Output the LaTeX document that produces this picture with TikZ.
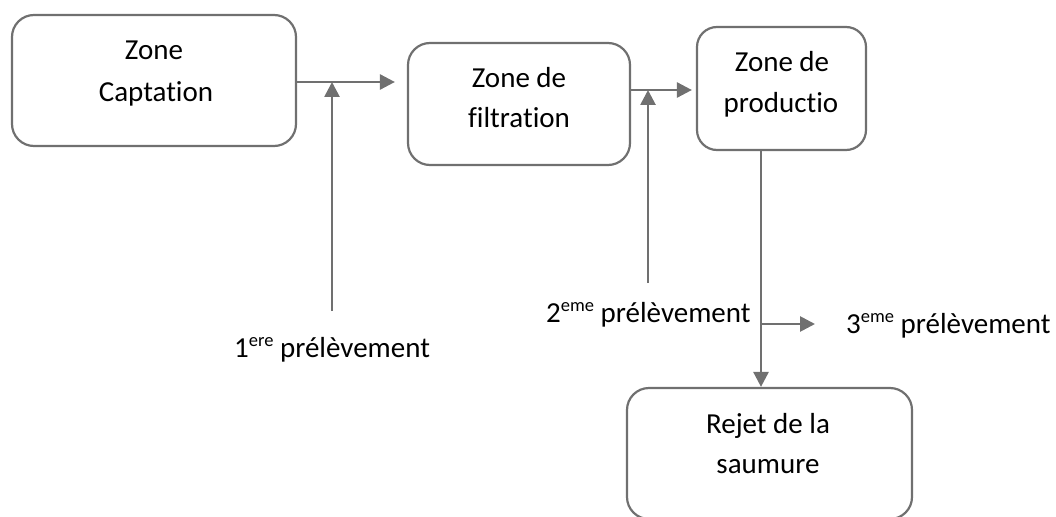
\documentclass[tikz,border=0pt]{standalone}
\usepackage{fontspec}
\setmainfont{Carlito}[Ligatures=NoCommon]
\usetikzlibrary{arrows.meta}
\definecolor{lc}{RGB}{112,112,112}
\newcommand{\supx}[1]{\raisebox{0.36em}{\fontsize{18.5}{18.5}\selectfont #1}}
\tikzset{
  box/.style={draw=lc, line width=2.2pt, rounded corners=22pt, minimum width=#1, inner sep=0pt},
  ln/.style={inner sep=0pt, anchor=base, font=\fontsize{29}{34}\selectfont},
  lbl/.style={inner sep=0pt, anchor=base west, font=\fontsize{29}{34}\selectfont},
  arr/.style={draw=lc, line width=2.7pt, -{Triangle[length=15pt,width=15pt]}}
}
\begin{document}
\begin{tikzpicture}[x=1pt,y=-1pt]
\useasboundingbox (0,0) rectangle (1056,516);
\clip (0,0) rectangle (1056,516);
% boxes
\node[box=284pt, minimum height=131pt] (b1) at (154,80.5) {};
\node[box=222pt, minimum height=122pt] (b2) at (519,104) {};
\node[box=169pt, minimum height=123pt, rounded corners=20pt] (b3) at (781.5,88.5) {};
\node[box=285pt, minimum height=131pt] (b4) at (769.5,453.5) {};
% box texts
\node[ln] (t1a) at (154,60) {Zone};
\node[ln] (t1b) at (156,102) {Captation};
\node[ln] (t2a) at (519,88) {Zone de};
\node[ln] (t2b) at (519,128) {filtration};
\node[ln] (t3a) at (782,72) {Zone de};
\node[ln] (t3b) at (781,113) {productio};
\node[ln] (t4a) at (768,433) {Rejet de la};
\node[ln] (t4b) at (768,473) {saumure};
% labels
\node[lbl] (l1) at (234,357) {1\supx{ere} prélèvement};
\node[lbl] (l2) at (546,322) {2\supx{eme} prélèvement};
\node[lbl] (l3) at (846,333) {3\supx{eme} prélèvement};
% junction coordinates
\coordinate (j1) at (332,82);
\coordinate (p1) at (332,311);
\coordinate (j2) at (648,90);
\coordinate (p2) at (648,283);
\coordinate (j3) at (761,324);
\coordinate (e3) at (815,324);
% connectors
\draw[arr] (b1.east |- j1) -- ([xshift=-12pt]b2.west |- j1);
\draw[arr] (p1) -- (j1);
\draw[arr] (b2.east |- j2) -- ([xshift=-4pt]b3.west |- j2);
\draw[arr] (p2) -- (j2);
\draw[arr] (b3.south -| j3) -- (b4.north -| j3);
\draw[arr] (j3) -- (e3);
\end{tikzpicture}
\end{document}
